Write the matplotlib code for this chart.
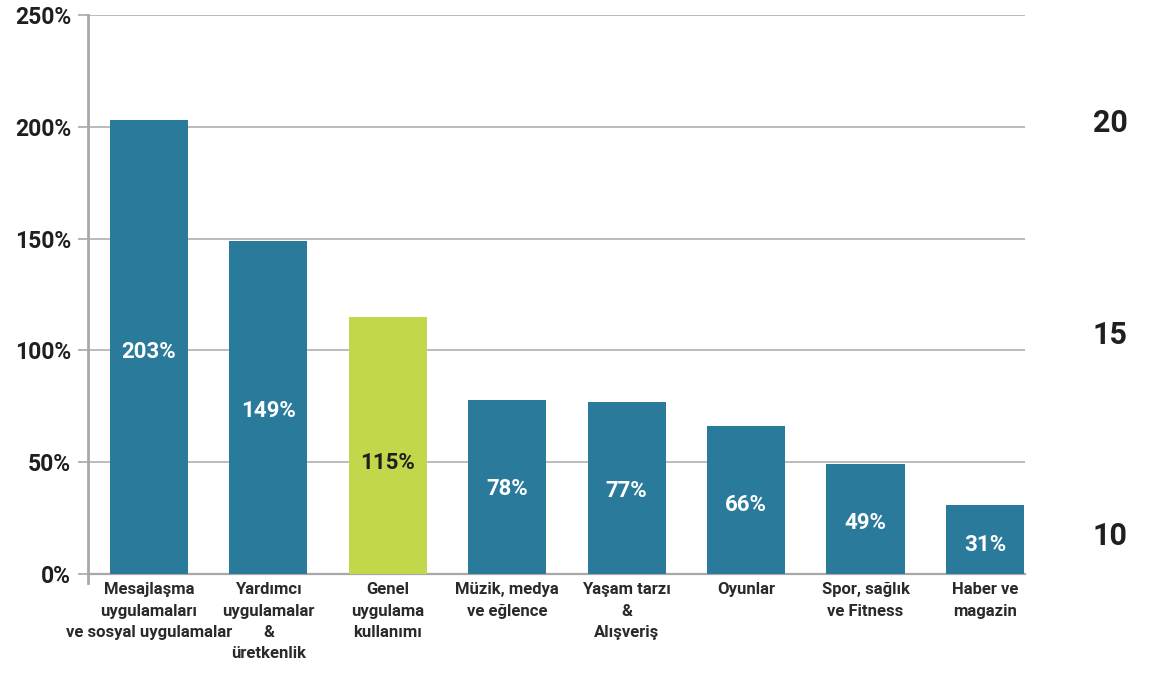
import matplotlib

matplotlib.use("Agg")
import matplotlib.pyplot as plt
from matplotlib.ticker import FixedLocator

plt.rcParams["font.family"] = ["Roboto", "DejaVu Sans"]

categories = [
    "Mesajlaşma\nuygulamaları\nve sosyal uygulamalar",
    "Yardımcı\nuygulamalar\n&\nüretkenlik",
    "Genel\nuygulama\nkullanımı",
    "Müzik, medya\nve eğlence",
    "Yaşam tarzı\n&\nAlışveriş",
    "Oyunlar",
    "Spor, sağlık\nve Fitness",
    "Haber ve\nmagazin",
]
growth = [203, 149, 115, 78, 77, 66, 49, 31]
highlight = [False, False, True, False, False, False, False, False]
y_ticks = [0, 50, 100, 150, 200, 250]
side_labels = ["20", "15", "10"]

BLUE = "#2a7b9b"
GREEN = "#c3d74b"
GRID = "#a8a8a8"
TEXT = "#1f1f1f"

fig = plt.figure(figsize=(11.49, 6.73), dpi=100)
ax = fig.add_axes([88 / 1149, 1 - 574 / 673, 937 / 1149, 559 / 673])

xs = list(range(len(growth)))
colors = [GREEN if h else BLUE for h in highlight]
ax.bar(xs, growth, width=0.655, color=colors, zorder=3)

# value labels sit roughly halfway up each bar
label_frac = [0.49, 0.49, 0.43, 0.49, 0.48, 0.47, 0.47, 0.42]
for x, v, h, f in zip(xs, growth, highlight, label_frac):
    ax.text(x, v * f, f"{v}%", ha="center", va="center", fontsize=16,
            fontweight="bold", color=TEXT if h else "white", zorder=4)

ax.set_xlim(-0.51, 7.335)
ax.set_ylim(0, 250)
ax.yaxis.set_major_locator(FixedLocator(y_ticks))
ax.set_yticklabels([f"{t}%" for t in y_ticks], fontsize=16.5, fontweight="bold", color=TEXT)
ax.set_xticks(xs)
ax.set_xticklabels(categories, fontsize=12, fontweight="bold", color="#2a2a2a",
                   linespacing=1.52, va="top")
ax.tick_params(axis="x", length=0, pad=6)
ax.tick_params(axis="y", length=7, width=1.2, color=GRID, pad=5)

ax.grid(axis="y", color=GRID, linewidth=1.1, zorder=0)
for side in ["top", "right"]:
    ax.spines[side].set_visible(False)
ax.spines["left"].set_color(GRID)
ax.spines["left"].set_linewidth(2)
ax.spines["bottom"].set_color(GRID)
ax.spines["bottom"].set_linewidth(1.6)
ax.spines["left"].set_bounds(-4, 250)

for lbl, y in zip(side_labels, [123, 335, 536]):
    fig.text(1110 / 1149, 1 - y / 673, lbl, ha="center", va="center",
             fontsize=22, fontweight="bold", color=TEXT)

fig.savefig("out.png", dpi=100, facecolor="white")
